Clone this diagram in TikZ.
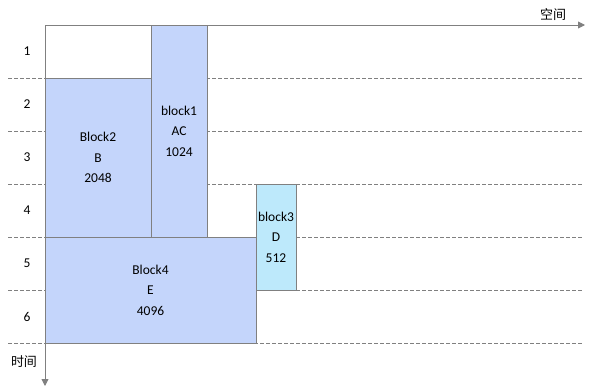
\documentclass[tikz,border=0pt]{standalone}
\usepackage{fontspec}
\setmainfont{Carlito}
\newfontfamily\cjk{Noto Sans CJK SC}
\usetikzlibrary{arrows.meta}
\definecolor{blkblue}{HTML}{C4D5FB}
\definecolor{blkcyan}{HTML}{BDE9FB}
\definecolor{linegray}{HTML}{808080}

\begin{document}
\begin{tikzpicture}[x=1pt,y=-1pt,
    blk/.style={draw=linegray,fill=blkblue,line width=0.8pt,inner sep=0pt,align=center,
      font=\fontsize{13.5}{20.5}\selectfont},
    rowline/.style={draw=linegray,line width=0.8pt,dash pattern=on 3.5pt off 2.5pt},
    axis/.style={draw=linegray,line width=0.9pt,-{Triangle[length=7pt,width=7pt]}}]
    \useasboundingbox (0,0) rectangle (590,389);

    % time slots
    \foreach \r in {1,...,6} {
      \draw[rowline] (8,25+53*\r) -- (582,25+53*\r);
      \node[font=\fontsize{13.5}{15}\selectfont] (row\r) at (27,51.5+53*\r-53) {\r};
    }

    % memory blocks
    \node[blk, minimum width=106, minimum height=159] (b2) at (98,157.5) {Block2\\B\\2048};
    \node[blk, minimum width=56, minimum height=212] (b1) at (179,131) {block1\\AC\\1024};
    \node[blk, fill=blkcyan, minimum width=40, minimum height=106] (b3) at (276,237) {block3\\D\\512};
    \node[blk, minimum width=211, minimum height=106] (b4) at (150.5,290) {Block4\\E\\4096};

    % axes
    \coordinate (o) at (45,25);
    \coordinate (xend) at (585,25);
    \coordinate (yend) at (45,386);
    \draw[axis] (o) -- (xend);
    \draw[axis] (o) -- (yend);
    \node[font=\cjk\fontsize{13}{15}\selectfont] (space) at (553,15) {空间};
    \node[font=\cjk\fontsize{13}{15}\selectfont] (time) at (24,362) {时间};
  \end{tikzpicture}
\end{document}
